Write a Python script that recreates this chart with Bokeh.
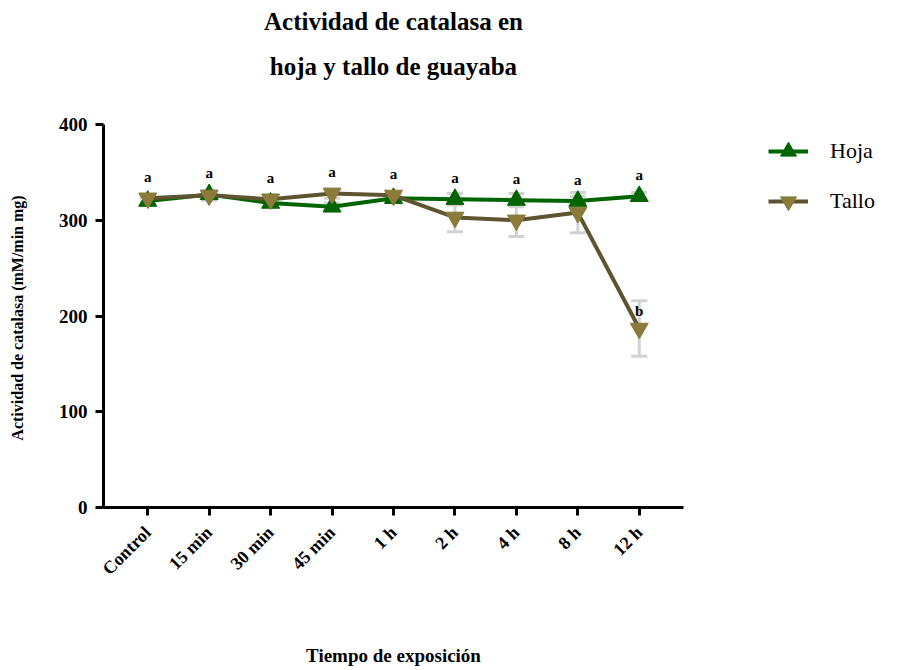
import math

from bokeh.plotting import figure
from bokeh.models import (ColumnDataSource, Range1d, FixedTicker, Whisker, TeeHead,
                          Legend, LegendItem, LinearAxis)
from bokeh.embed import file_html
from bokeh.resources import INLINE

# Catalase activity (mM/min mg) in guava leaf and stem over exposure time
categories = ["Control", "15 min", "30 min", "45 min", "1 h", "2 h", "4 h", "8 h", "12 h"]
hoja = [320, 327, 318, 314, 323, 322, 321, 320, 325]
hoja_err = [4, 4, 4, 4, 3, 6, 7, 5, 4]
tallo = [323, 326, 322, 328, 326, 303, 300, 308, 187]
tallo_err = [4, 5, 4, 5, 3, 15, 17, 21, 29]
group_letters = ["a", "a", "a", "a", "a", "a", "a", "a", "a"]
tallo_last_letter = "b"
y_ticks = [0, 100, 200, 300, 400]
title_lines = ["Actividad de catalasa en", "hoja y tallo de guayaba"]

SERIF = "Liberation Serif"
GREEN = "#006400"
OLIVE_LINE = "#5e5431"
OLIVE_MARK = "#8b7a3a"
ERR_GREY = "#d2d2d2"

LEFT, TOP = 103, 124
FRAME_W = 580
FRAME_H = 383
Y_MAX = 400
px_per_unit = FRAME_H / Y_MAX

x = list(range(len(categories)))

src_h = ColumnDataSource(dict(x=x, y=hoja, lo=[v - e for v, e in zip(hoja, hoja_err)],
                              hi=[v + e for v, e in zip(hoja, hoja_err)]))
src_t = ColumnDataSource(dict(x=x, y=tallo, lo=[v - e for v, e in zip(tallo, tallo_err)],
                              hi=[v + e for v, e in zip(tallo, tallo_err)]))

p = figure(frame_width=FRAME_W, frame_height=FRAME_H,
           x_range=Range1d(-0.72, 8.72), y_range=Range1d(0, Y_MAX),
           min_border_left=LEFT, min_border_right=0, min_border_top=TOP, min_border_bottom=163,
           output_backend="svg", toolbar_location=None)
p.title.visible = False
p.grid.visible = False
p.outline_line_color = None
p.background_fill_color = "white"
p.border_fill_color = "white"

xa = p.below[0]
ya = p.left[0]

# axes
for ax in (xa, ya):
    ax.axis_line_width = 3
    ax.axis_line_color = "black"
    ax.major_tick_line_width = 3
    ax.major_tick_line_color = "black"
    ax.major_tick_out = 8
    ax.major_tick_in = 0
    ax.minor_tick_line_color = None
    ax.major_label_text_font = SERIF
    ax.major_label_text_font_style = "bold"
    ax.major_label_text_color = "black"
    ax.axis_label_text_font = SERIF
    ax.axis_label_text_font_style = "bold"
    ax.axis_label_text_color = "black"

ya.ticker = FixedTicker(ticks=y_ticks)
ya.major_label_text_font_size = "19px"
ya.major_label_standoff = 8
ya.axis_label = "Actividad de catalasa  (mM/min mg)"
ya.axis_label_text_font_size = "16px"
ya.axis_label_standoff = 30

xa.ticker = FixedTicker(ticks=x)
xa.major_label_overrides = {i: c for i, c in zip(x, categories)}
xa.major_label_orientation = math.pi / 4
xa.major_label_text_font_size = "18px"
xa.major_label_standoff = 14
xa.axis_label = "Tiempo de exposición"
xa.axis_label_text_font_size = "19px"
xa.axis_label_standoff = 56

# two-line heading, carried by bare axes above the plotting area
# (the first one added sits nearest the frame)
for line, standoff in zip(reversed(title_lines), (45, 15)):
    head = LinearAxis(ticker=FixedTicker(ticks=[]), axis_label=line,
                      axis_label_standoff=standoff, axis_line_color=None,
                      major_tick_line_color=None, minor_tick_line_color=None,
                      major_tick_out=0, major_label_standoff=0,
                      axis_label_text_font=SERIF, axis_label_text_font_size="25px",
                      axis_label_text_font_style="bold", axis_label_text_color="black")
    p.add_layout(head, "above")

# error bars
for src in (src_h, src_t):
    p.add_layout(Whisker(source=src, base="x", upper="hi", lower="lo",
                         line_color=ERR_GREY, line_width=3,
                         upper_head=TeeHead(size=16, line_color=ERR_GREY, line_width=3),
                         lower_head=TeeHead(size=16, line_color=ERR_GREY, line_width=3)))

# series
lh = p.line("x", "y", source=src_h, line_color=GREEN, line_width=4)
mh = p.scatter("x", "y", source=src_h, marker="triangle", size=18,
               fill_color=GREEN, line_color=GREEN)
lt = p.line("x", "y", source=src_t, line_color=OLIVE_LINE, line_width=4)
mt = p.scatter("x", "y", source=src_t, marker="inverted_triangle", size=18,
               fill_color=OLIVE_MARK, line_color=OLIVE_MARK)

# significance letters above each time point
marker_half = 10 / px_per_unit
tops = [max(h + he, h + marker_half, t + te, t + marker_half)
        for h, he, t, te in zip(hoja, hoja_err, tallo, tallo_err)]
p.text(x=x, y=tops, text=group_letters, text_font_size="15px", text_font_style="bold",
       text_align="center", text_baseline="bottom", y_offset=-3, text_color="black",
       text_font={"value": SERIF})
p.text(x=[x[-1]], y=[tallo[-1]], text=[tallo_last_letter], text_font_size="15px",
       text_font_style="bold", text_align="center", text_baseline="bottom", y_offset=-9,
       text_color="black", text_font={"value": SERIF})

legend = Legend(items=[LegendItem(label="Hoja", renderers=[lh, mh]),
                       LegendItem(label="Tallo", renderers=[lt, mt])],
                location=(85, 286), glyph_width=40, glyph_height=40, label_height=40,
                spacing=10, padding=0, margin=0, label_standoff=22,
                label_text_font=SERIF, label_text_font_size="22px",
                label_text_color="black",
                border_line_color=None, background_fill_alpha=0)
p.add_layout(legend, "right")

open("out.html", "w").write(file_html(p, INLINE))
